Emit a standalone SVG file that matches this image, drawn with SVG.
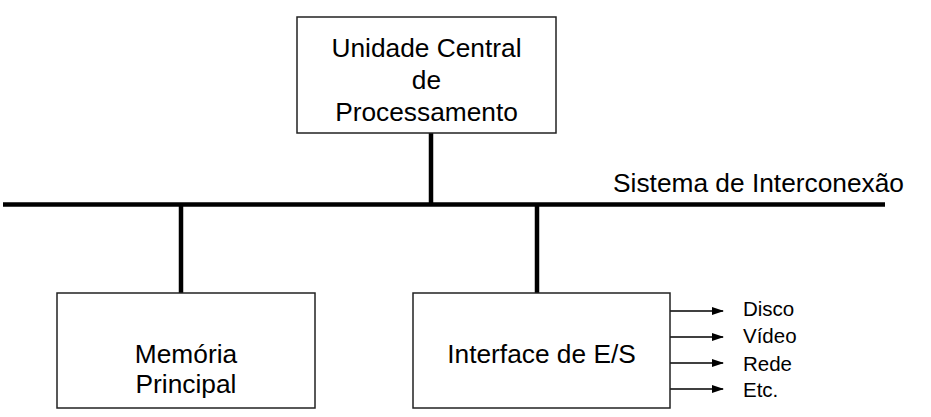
<svg xmlns="http://www.w3.org/2000/svg" width="931" height="417" viewBox="0 0 931 417">
<style>
.box{fill:#fff;stroke:#222;stroke-width:1.5}
.t{font-family:"Liberation Sans",Arial,sans-serif;font-size:26.3px;fill:#000;text-anchor:middle}
.s{font-family:"Liberation Sans",Arial,sans-serif;font-size:20.5px;fill:#000}
.bus{stroke:#000;stroke-width:4.5;fill:none}
.arr{stroke:#000;stroke-width:1.3;fill:none;marker-end:url(#ah)}
</style>
<defs>
<marker id="ah" markerWidth="12" markerHeight="8" refX="11" refY="4" orient="auto" markerUnits="userSpaceOnUse">
<path d="M0,0 L12,4 L0,8 Z" fill="#000"/>
</marker>
</defs>
<rect width="931" height="417" fill="#fff"/>
<g id="connectors">
<line class="bus" x1="3" y1="204.5" x2="885" y2="204.5"/>
<line class="bus" x1="431" y1="133" x2="431" y2="204"/>
<line class="bus" x1="181" y1="204" x2="181" y2="293"/>
<line class="bus" x1="537" y1="204" x2="537" y2="293"/>
<line class="arr" x1="670" y1="311" x2="723" y2="311"/>
<line class="arr" x1="670" y1="337" x2="723" y2="337"/>
<line class="arr" x1="670" y1="363" x2="723" y2="363"/>
<line class="arr" x1="670" y1="389" x2="723" y2="389"/>
</g>
<g id="bus-label">
<text class="t" x="758.5" y="192">Sistema de Interconexão</text>
</g>
<g id="cpu">
<rect class="box" x="297" y="17" width="259" height="116"/>
<text class="t" x="426.5" y="57">Unidade Central</text>
<text class="t" x="426.5" y="89">de</text>
<text class="t" x="426.5" y="121">Processamento</text>
</g>
<g id="memoria">
<rect class="box" x="57" y="293" width="258" height="115"/>
<text class="t" x="186" y="363">Memória</text>
<text class="t" x="186" y="393">Principal</text>
</g>
<g id="interface">
<rect class="box" x="413" y="293" width="257" height="115"/>
<text class="t" x="541.5" y="363">Interface de E/S</text>
</g>
<g id="devices">
<text class="s" x="743" y="316">Disco</text>
<text class="s" x="743" y="343">Vídeo</text>
<text class="s" x="743" y="371">Rede</text>
<text class="s" x="743" y="397">Etc.</text>
</g>
</svg>
